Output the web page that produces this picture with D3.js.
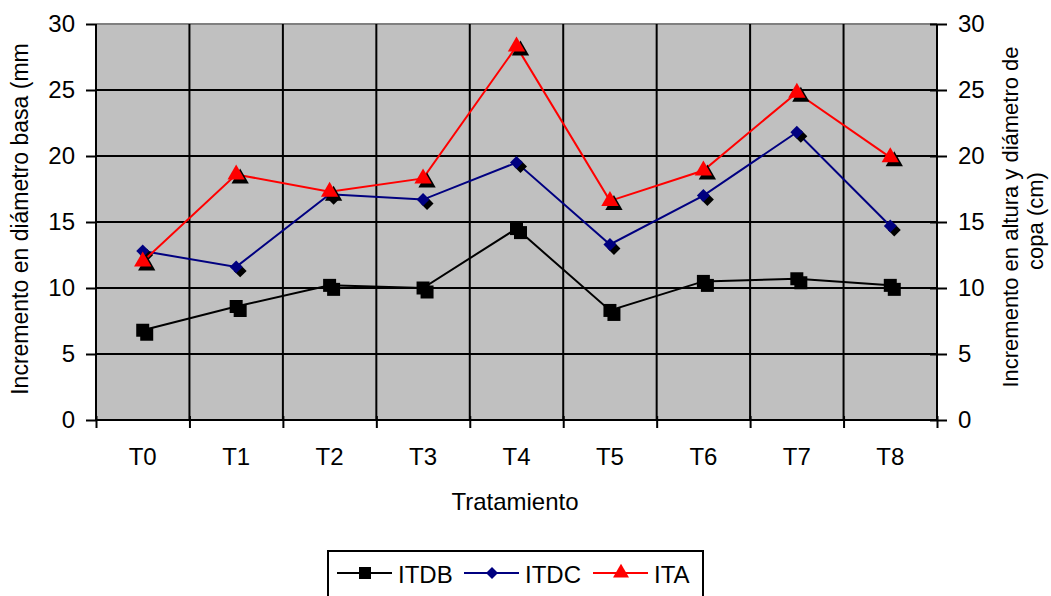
<!DOCTYPE html>
<html><head><meta charset="utf-8">
<script src="https://cdn.jsdelivr.net/npm/d3@7"></script>
<style>body{margin:0;background:#fff}svg{display:block;font-family:"Liberation Sans",Arial,sans-serif}</style>
</head><body><svg id="c" width="1051" height="596"></svg>
<script>
const categories = ["T0","T1","T2","T3","T4","T5","T6","T7","T8"];
const ITDB = [6.8, 8.6, 10.2, 10.0, 14.5, 8.3, 10.5, 10.7, 10.2];
const ITDC = [12.8, 11.6, 17.1, 16.7, 19.5, 13.3, 17.0, 21.8, 14.7];
const ITA  = [12.0, 18.6, 17.3, 18.3, 28.3, 16.6, 18.9, 24.8, 19.9];
const yTicks = [0,5,10,15,20,25,30];
const seriesNames = ["ITDB","ITDC","ITA"];

const svg = d3.select("#c");
const L=96, R=937, T=24, B=420;
const x = d3.scaleBand().domain(categories).range([L,R]);
const y = d3.scaleLinear().domain([0,30]).range([B,T]);

svg.append("rect").attr("x",L).attr("y",T).attr("width",R-L).attr("height",B-T).attr("fill","#C0C0C0");
svg.append("line").attr("x1",L).attr("x2",R).attr("y1",T).attr("y2",T).attr("stroke","#808080").attr("stroke-width",2);
svg.append("g").selectAll("line").data(yTicks.filter(d=>d>0&&d<30)).join("line")
  .attr("x1",L).attr("x2",R).attr("y1",d=>y(d)).attr("y2",d=>y(d)).attr("stroke","#000").attr("stroke-width",2);
const bounds = categories.map(c=>x(c)).slice(1);
svg.append("g").selectAll("line").data(bounds).join("line")
  .attr("x1",d=>d).attr("x2",d=>d).attr("y1",T).attr("y2",B).attr("stroke","#000").attr("stroke-width",2);

const gl = svg.append("g").attr("transform",`translate(${L},0)`)
  .call(d3.axisLeft(y).tickValues(yTicks).tickSize(10).tickPadding(11));
const gr = svg.append("g").attr("transform",`translate(${R},0)`)
  .call(d3.axisRight(y).tickValues(yTicks).tickSize(10).tickPadding(11));
gr.selectAll(".tick line").attr("x1",-7);
const xb = d3.scaleLinear().domain([0,categories.length]).range([L,R]);
const gb = svg.append("g").attr("transform",`translate(0,${B})`)
  .call(d3.axisBottom(xb).tickValues(d3.range(0,categories.length+1)).tickSize(8).tickFormat(""));
gb.selectAll(".tick line").attr("y1",-4);
svg.append("g").selectAll("text").data(categories).join("text")
  .attr("x",d=>x(d)+x.bandwidth()/2).attr("y",465).attr("text-anchor","middle")
  .attr("font-size",24).text(d=>d);
[gl,gr,gb].forEach(g=>{
  g.select(".domain").attr("stroke","#000").attr("stroke-width",2);
  g.selectAll(".tick line").attr("stroke","#000").attr("stroke-width",2);
  g.selectAll(".tick text").attr("font-size",24).attr("fill","#000").attr("font-family","Liberation Sans, Arial, sans-serif");
});
gl.select(".domain").attr("d",`M0,${T}V${B}`);
gr.select(".domain").attr("d",`M0,${T}V${B}`);
gb.select(".domain").attr("d",`M${L},0H${R}`);

svg.append("text").attr("x",515).attr("y",510).attr("text-anchor","middle").attr("font-size",24).text("Tratamiento");
svg.append("text").attr("transform","translate(28,219) rotate(-90)").attr("text-anchor","middle").attr("font-size",23).text("Incremento en diámetro basa (mm");
svg.append("text").attr("transform","translate(1018,217) rotate(-90)").attr("text-anchor","middle").attr("font-size",22).text("Incremento en altura y diámetro de");
svg.append("text").attr("transform","translate(1043,221) rotate(-90)").attr("text-anchor","middle").attr("font-size",22).text("copa (cm)");

const colors = {ITDB:"#000", ITDC:"#000080", ITA:"#FF0000"};
const diamond = {draw(ctx,size){const r=Math.sqrt(size/2);ctx.moveTo(0,-r);ctx.lineTo(r,0);ctx.lineTo(0,r);ctx.lineTo(-r,0);ctx.closePath();}};
const symbols = {ITDB:d3.symbolSquare, ITDC:diamond, ITA:d3.symbolTriangle};
const sizes = {ITDB:169, ITDC:84, ITA:130};
const data = {ITDB, ITDC, ITA};
const cx = c=>x(c)+x.bandwidth()/2;
const line = d3.line().x((d,i)=>cx(categories[i])).y(d=>y(d));

seriesNames.forEach(s=>{
  svg.append("path").datum(data[s]).attr("d",line).attr("fill","none").attr("stroke",colors[s]).attr("stroke-width",2);
  const sym = d3.symbol().type(symbols[s]).size(sizes[s]);
  const g = svg.append("g");
  g.selectAll("path.sh").data(data[s]).join("path").attr("class","sh")
    .attr("transform",(d,i)=>`translate(${cx(categories[i])+4},${y(d)+4})`).attr("d",sym).attr("fill","#000");
  g.selectAll("path.mk").data(data[s]).join("path").attr("class","mk")
    .attr("transform",(d,i)=>`translate(${cx(categories[i])},${y(d)})`).attr("d",sym).attr("fill",colors[s]);
});

const lg = svg.append("g");
lg.append("rect").attr("x",328).attr("y",551).attr("width",375).attr("height",60).attr("fill","#fff").attr("stroke","#000").attr("stroke-width",2);
const lx = [337, 464, 593];
seriesNames.forEach((s,i)=>{
  const x0 = lx[i], yy = 573;
  lg.append("line").attr("x1",x0).attr("x2",x0+55).attr("y1",yy).attr("y2",yy).attr("stroke",colors[s]).attr("stroke-width",2);
  lg.append("path").attr("transform",`translate(${x0+28},${yy})`).attr("d",d3.symbol().type(symbols[s]).size(sizes[s]*0.85)).attr("fill",colors[s]);
  lg.append("text").attr("x",x0+61).attr("y",yy+10).attr("font-size",24).text(s);
});
</script></body></html>
